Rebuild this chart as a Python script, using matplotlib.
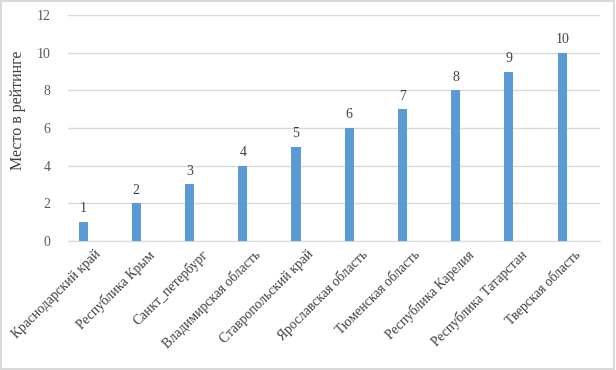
import matplotlib.pyplot as plt
from matplotlib.patches import Rectangle
from matplotlib.transforms import ScaledTranslation

# Data
regions = [
    "Краснодарский край",
    "Республика Крым",
    "Санкт_петербург",
    "Владимирская область",
    "Ставропольский край",
    "Ярославская область",
    "Тюменская область",
    "Республика Карелия",
    "Республика Татарстан",
    "Тверская область",
]
places = [1, 2, 3, 4, 5, 6, 7, 8, 9, 10]
yticks = [0, 2, 4, 6, 8, 10, 12]

plt.rcParams["font.family"] = ["Liberation Serif", "DejaVu Serif"]

fig = plt.figure(figsize=(6.16, 3.7), dpi=100)
ax = fig.add_axes([0.111, 0.349, 0.863, 0.61])

x = range(len(regions))
ax.bar(x, places, width=0.17, color="#5b9bd5", zorder=3)

for xi, v in zip(x, places):
    ax.text(xi, v + 0.35, str(v), ha="center", va="bottom", fontsize=10, color="#404040")

ax.set_xlim(-0.276, len(regions) - 1 + 0.71)
ax.set_ylim(0, 12)
ax.set_yticks(yticks)
ax.yaxis.grid(True, color="#d9d9d9", linewidth=1, zorder=0)
ax.tick_params(axis="y", length=0, labelsize=10, labelcolor="#595959", pad=13)
ax.tick_params(axis="x", length=0, labelsize=9.8, labelcolor="#404040", pad=5)
ax.set_xticks(list(x))
ax.set_xticklabels(regions, rotation=45, ha="right", rotation_mode="anchor")
# shift category labels a bit to the right, as in the original
offset = ScaledTranslation(8 / 72, 0, fig.dpi_scale_trans)
for lbl in ax.get_xticklabels():
    lbl.set_transform(lbl.get_transform() + offset)
for s in ["top", "right", "left"]:
    ax.spines[s].set_visible(False)
ax.spines["bottom"].set_color("#d9d9d9")
ax.set_ylabel("Место в рейтинге", fontsize=11.5, color="#404040")
ax.yaxis.set_label_coords(-0.079, 0.58)

# light frame around the whole chart
fig.patches.append(Rectangle((0.002, 0.003), 0.995, 0.993, transform=fig.transFigure,
                             fill=False, edgecolor="#d9d9d9", linewidth=1.5))

plt.savefig("out.png", dpi=100)
plt.close()
